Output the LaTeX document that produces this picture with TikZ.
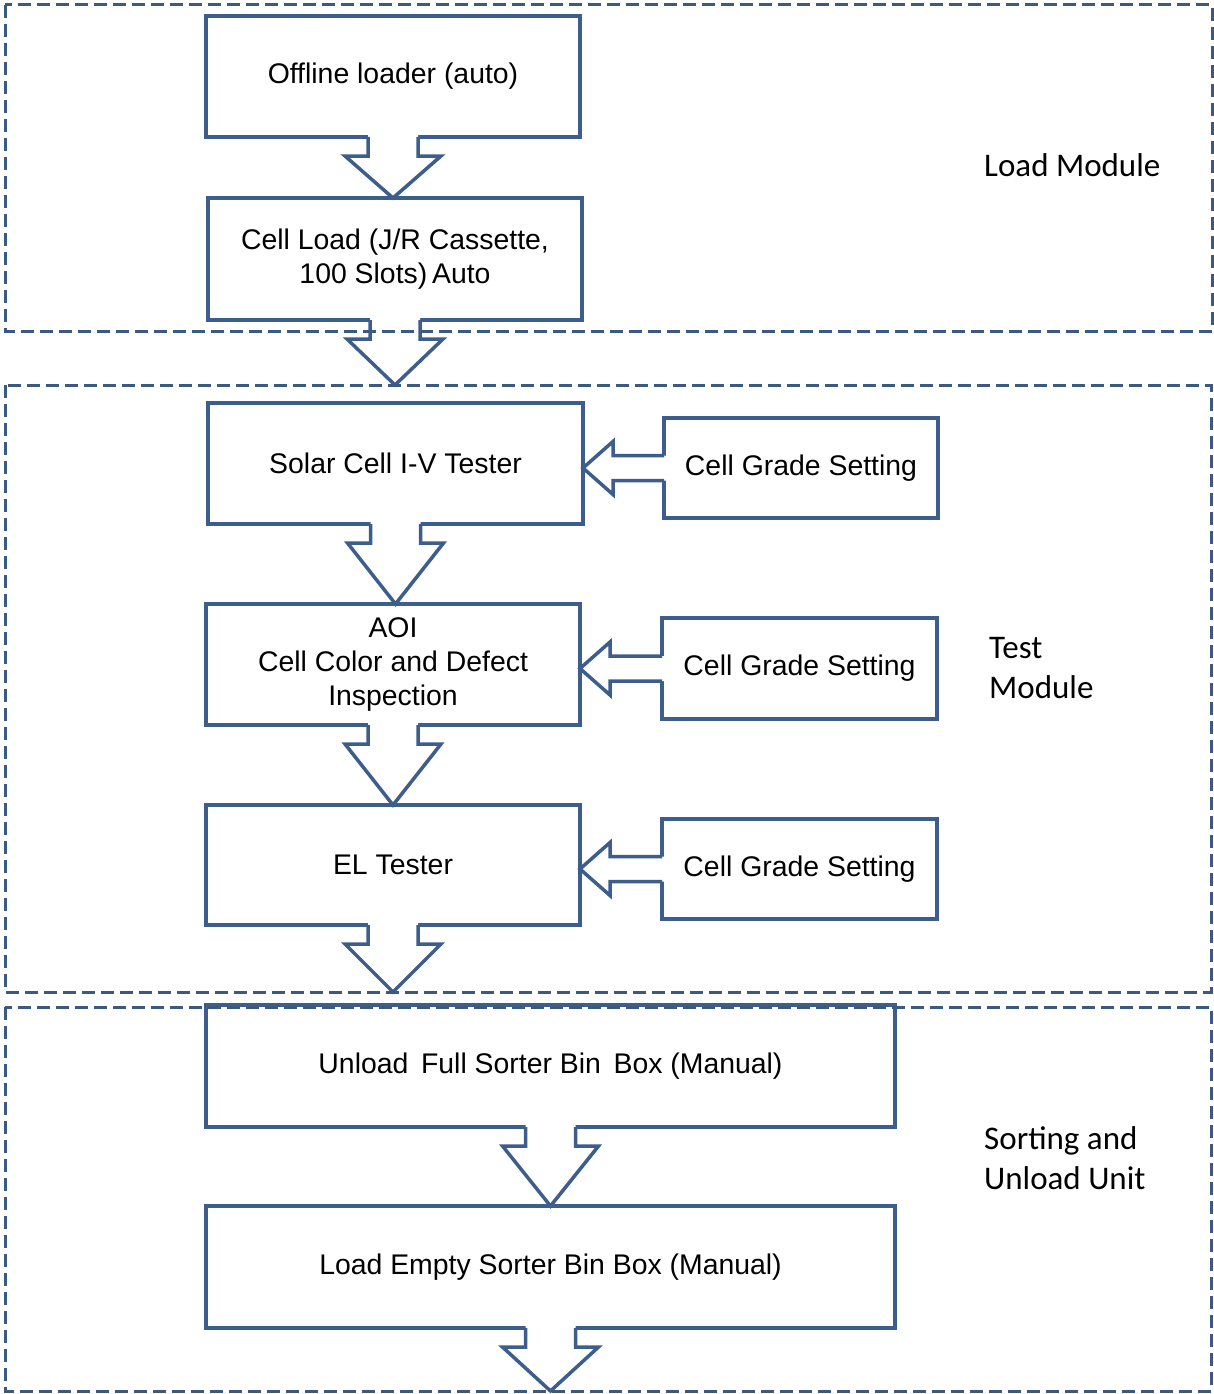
\documentclass[tikz,border=0pt]{standalone}
\usepackage{fontspec}
\setmainfont{Liberation Sans}
\newfontfamily\labelfont{Carlito}
\usetikzlibrary{calc}
\definecolor{edge}{HTML}{3D5E8C}
\definecolor{frameblue}{HTML}{3A5A82}

\tikzset{
  stage/.style={draw=edge, line width=3.5pt, fill=white, align=center,
    font=\fontsize{28.4}{34}\selectfont, inner sep=0pt, outer sep=0pt},
  zone/.style={inner sep=0pt, outer sep=0pt},
  frameline/.style={draw=frameblue, line width=3pt, dash pattern=on 13pt off 6pt},
  arr/.style={draw=edge, line width=3.5pt, line join=miter},
  zonelabel/.style={anchor=west, align=left, inner sep=0pt,
    font=\labelfont\fontsize{33}{40}\selectfont}
}

% hollow block arrow pointing down, from #1 to the height of #2
\newcommand\blockdown[2]{%
  \fill[white] let \p1=#1, \p2=#2 in
    (\x1-25pt,\y1+2pt) -- (\x1-25pt,\y1-19pt) -- (\x1-48pt,\y1-19pt) -- (\x1,\y2)
    -- (\x1+48pt,\y1-19pt) -- (\x1+25pt,\y1-19pt) -- (\x1+25pt,\y1+2pt) -- cycle;
  \draw[arr] let \p1=#1, \p2=#2 in
    (\x1-25pt,\y1) -- (\x1-25pt,\y1-19pt) -- (\x1-48pt,\y1-19pt) -- (\x1,\y2)
    -- (\x1+48pt,\y1-19pt) -- (\x1+25pt,\y1-19pt) -- (\x1+25pt,\y1);
}
% hollow block arrow pointing left, from #1 to the x of #2
\newcommand\blockleft[2]{%
  \fill[white] let \p1=#1, \p2=#2 in
    (\x1+2pt,\y1+12.5pt) -- (\x2+30pt,\y1+12.5pt) -- (\x2+30pt,\y1+26.5pt) -- (\x2,\y1)
    -- (\x2+30pt,\y1-26.5pt) -- (\x2+30pt,\y1-12.5pt) -- (\x1+2pt,\y1-12.5pt) -- cycle;
  \draw[arr] let \p1=#1, \p2=#2 in
    (\x1,\y1+12.5pt) -- (\x2+30pt,\y1+12.5pt) -- (\x2+30pt,\y1+26.5pt) -- (\x2,\y1)
    -- (\x2+30pt,\y1-26.5pt) -- (\x2+30pt,\y1-12.5pt) -- (\x1,\y1-12.5pt);
}

\begin{document}
\begin{tikzpicture}[x=1pt, y=-1pt]
\useasboundingbox (0,0) rectangle (1213,1394);
\fill[white] (0,0) rectangle (1213,1394);

% module areas (outlined at the end)
\path node[zone, minimum width=1207pt, minimum height=326pt] (loadzone) at (608.5,168) {};
\path node[zone, minimum width=1206pt, minimum height=607pt] (testzone) at (608,688.5) {};
\path node[zone, minimum width=1206pt, minimum height=384pt] (sortzone) at (608,1199) {};

% process stages
\node[stage, minimum width=374pt, minimum height=121pt] (offline) at (393,76.5) {Offline loader (auto)};
\node[stage, minimum width=374pt, minimum height=122pt] (cellload) at (395,259) {Cell Load (J/R Cassette,\\100 Slots)\,Auto};
\node[stage, minimum width=375pt, minimum height=121pt] (ivtest) at (395.5,463.5) {Solar Cell I-V Tester};
\node[stage, minimum width=374pt, minimum height=121pt] (aoi) at (393,664.5) {AOI\\Cell Color and Defect\\Inspection};
\node[stage, minimum width=374pt, minimum height=120pt] (eltest) at (393,865) {EL Tester};
\node[stage, minimum width=689pt, minimum height=122pt] (unload) at (550.5,1066) {Unload\,\ Full Sorter Bin\,\ Box (Manual)};
\node[stage, minimum width=689pt, minimum height=122pt] (loadempty) at (550.5,1267) {Load Empty Sorter Bin Box (Manual)};

% grade settings
\node[stage, minimum width=274pt, minimum height=100pt] (grade1) at (801,468) {Cell Grade Setting};
\node[stage, minimum width=275pt, minimum height=101pt] (grade2) at (799.5,668.5) {Cell Grade Setting};
\node[stage, minimum width=275pt, minimum height=100pt] (grade3) at (799.5,869) {Cell Grade Setting};

% flow arrows
\blockdown{(offline.south)}{(cellload.north)}
\blockdown{(cellload.south)}{(testzone.north)}
\blockdown{(ivtest.south)}{(aoi.north)}
\blockdown{(aoi.south)}{(eltest.north)}
\blockdown{(eltest.south)}{(testzone.south)}
\blockdown{(unload.south)}{(loadempty.north)}
\blockdown{(loadempty.south)}{(sortzone.south)}

\blockleft{(grade1.west)}{(ivtest.east)}
\blockleft{(grade2.west)}{(aoi.east)}
\blockleft{(grade3.west)}{(eltest.east)}

% module outlines
\draw[frameline] (loadzone.north west) rectangle (loadzone.south east);
\draw[frameline] (testzone.north west) rectangle (testzone.south east);
\draw[frameline] (sortzone.north west) rectangle (sortzone.south east);

% module names
\node[zonelabel] (loadname) at (984,165) {Load Module};
\node[zonelabel] (testname) at (989,668) {Test\\Module};
\node[zonelabel] (sortname) at (984,1158) {Sorting and\\Unload Unit};
\end{tikzpicture}
\end{document}
